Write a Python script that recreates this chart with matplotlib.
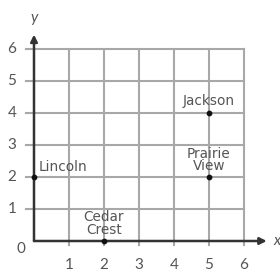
import matplotlib
matplotlib.use("Agg")
import matplotlib.pyplot as plt

# Data
ticks = [0, 1, 2, 3, 4, 5, 6]
x_ticklabels = ["1", "2", "3", "4", "5", "6"]
y_ticklabels = ["0", "1", "2", "3", "4", "5", "6"]
place_names = ["Lincoln", "Cedar\nCrest", "Jackson", "Prairie\nView"]
place_x = [0, 2, 5, 5]
place_y = [2, 0, 4, 2]

W, H = 280, 272
fig = plt.figure(figsize=(W / 100, H / 100), dpi=100)
ax = fig.add_axes([0, 0, 1, 1])
ax.set_xlim(-34 / 35, (W - 34) / 35)
ax.set_ylim(-(H - 241) / 32, 241 / 32)
ax.axis("off")

font = ["Lato", "DejaVu Sans"]
lab_font = ["DejaVu Sans"]
grid_c = "#a8a8a8"
axis_c = "#333333"
txt_c = "#555555"

# grid lines
for t in ticks[1:]:
    ax.plot([t, t], [-0.12, 6], color=grid_c, lw=1.5, zorder=1)
    ax.plot([-0.22, 6], [t, t], color=grid_c, lw=1.5, zorder=1)

# axes with arrows
ax.annotate("", xy=(6.65, 0), xytext=(0, 0),
            arrowprops=dict(arrowstyle="-|>", color=axis_c, lw=1.8,
                            mutation_scale=10, shrinkA=0, shrinkB=0), zorder=3)
ax.annotate("", xy=(0, 6.45), xytext=(0, 0),
            arrowprops=dict(arrowstyle="-|>", color=axis_c, lw=1.8,
                            mutation_scale=10, shrinkA=0, shrinkB=0), zorder=3)
ax.text(6.95, 0, "x", fontsize=11, color=txt_c, ha="center", va="center", family=font, style="italic")
ax.text(0, 6.97, "y", fontsize=11, color=txt_c, ha="center", va="center", family=font, style="italic")

# tick labels
for t, lab in zip(ticks[1:], x_ticklabels):
    ax.text(t, -0.75, lab, fontsize=11, color=txt_c, ha="center", va="center", family=font)
for t, lab in zip(ticks, y_ticklabels):
    xx = -0.63 if t > 0 else -0.36
    yy = t if t > 0 else -0.25
    ax.text(xx, yy, lab, fontsize=11, color=txt_c, ha="center", va="center", family=font)

# points
ax.scatter(place_x, place_y, s=10, color="#111111", zorder=4)
offsets = [(0.12, 0.31, "left"), (0, 0.55, "center"), (0, 0.38, "center"), (0, 0.53, "center")]
for name, px, py, (dx, dy, ha) in zip(place_names, place_x, place_y, offsets):
    ax.text(px + dx, py + dy, name, fontsize=9.8, color=txt_c, ha=ha, va="center",
            family=lab_font, linespacing=0.85)

fig.savefig("out.png", dpi=100)
